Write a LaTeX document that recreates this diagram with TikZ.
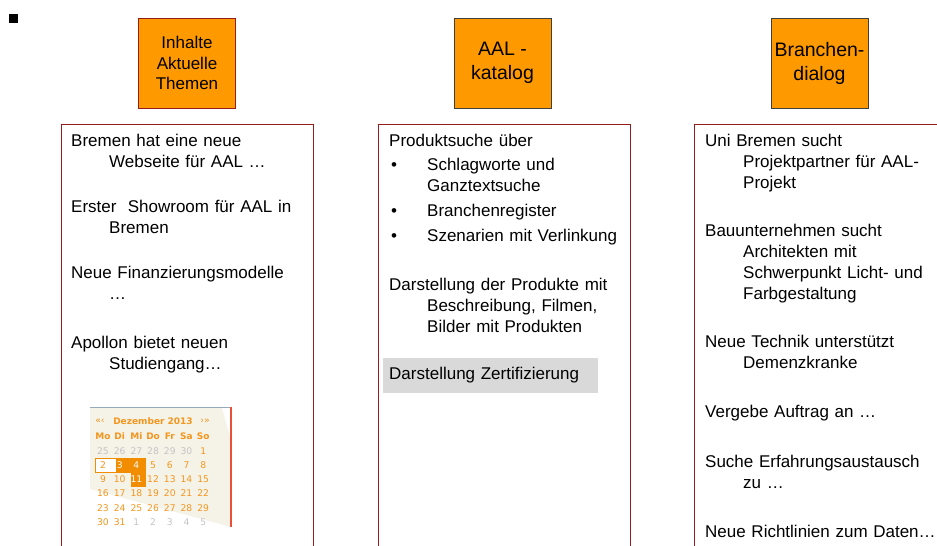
\documentclass[tikz,border=0pt]{standalone}
\usepackage{fontspec}
\setmainfont{Liberation Sans}
\newfontfamily\calfont{DejaVu Sans}
\usetikzlibrary{shapes}

\definecolor{boxorange}{RGB}{255,153,0}
\definecolor{boxred}{RGB}{150,28,28}
\definecolor{boxgrey}{RGB}{64,64,64}
\definecolor{calorange}{RGB}{243,150,30}
\definecolor{calfill}{RGB}{242,140,0}
\definecolor{calgrey}{RGB}{195,195,195}
\definecolor{calbeige}{RGB}{245,243,232}
\definecolor{calline}{RGB}{150,170,185}
\definecolor{calred}{RGB}{235,80,55}
\definecolor{zertgrey}{RGB}{217,217,217}

\tikzstyle{topic} = [rectangle, minimum width=97pt, minimum height=90pt, align=center, draw=boxred, line width=1pt, fill=boxorange, font=\fontsize{17}{20.5}\selectfont]
\tikzstyle{bigtopic} = [topic, draw=boxgrey, font=\fontsize{19.5}{24}\selectfont]
\tikzstyle{panel} = [rectangle, minimum height=436pt, draw=boxred, line width=1pt]
\tikzstyle{entry} = [anchor=base west, inner sep=0pt, text width=240pt, align=left, font=\fontsize{17}{21}\selectfont]
\tikzstyle{day} = [inner sep=0pt, text=calorange, font=\calfont\fontsize{9.2}{10}\selectfont]
\tikzstyle{dayname} = [day, font=\calfont\bfseries\fontsize{9}{10}\selectfont]

\newcommand{\ind}{\hspace*{38pt}}
\newcommand{\bul}{\makebox[38pt][l]{\hspace*{2pt}•}}

\begin{document}
\begin{tikzpicture}[x=1pt, y=-1pt]
\useasboundingbox (0,0) rectangle (937,546);
\clip (0,0) rectangle (937,546);

\fill (9,14) rectangle (18,23);

% headers
\node (inhalte) [topic] at (187,63) {Inhalte\\Aktuelle\\Themen};
\node (katalog) [bigtopic] at (502.5,63) {AAL -\\katalog};
\node (dialog) [bigtopic] at (819.5,63) {Branchen-\\dialog};

% panels
\node (news) [panel, minimum width=252pt] at (187,342) {};
\node (products) [panel, minimum width=252pt] at (504,342) {};
\node (market) [panel, minimum width=256pt] at (822,342) {};

% panel 1
\node (n1) [entry] at (71,146) {Bremen hat eine neue\\\ind Webseite für AAL …};
\node (n2) [entry] at (71,212) {Erster~ Showroom für AAL in\\\ind Bremen};
\node (n3) [entry] at (71,278) {Neue Finanzierungsmodelle\\\ind …};
\node (n4) [entry] at (71,348) {Apollon bietet neuen\\\ind Studiengang…};

% panel 2
\node (p1) [entry] at (389,146) {Produktsuche über};
\node (p2) [entry] at (389,170) {\bul Schlagworte und\\\ind Ganztextsuche};
\node (p3) [entry] at (389,216) {\bul Branchenregister};
\node (p4) [entry] at (389,241) {\bul Szenarien mit Verlinkung};
\node (p5) [entry] at (389,290) {Darstellung der Produkte mit\\\ind Beschreibung, Filmen,\\\ind Bilder mit Produkten};
\node (zert) [rectangle, anchor=west, fill=zertgrey, minimum height=35pt, text width=203pt, inner xsep=6pt, align=left, font=\fontsize{17}{21}\selectfont] at (383,375.5) {Darstellung Zertifizierung};

% panel 3
\node (m1) [entry] at (705,146) {Uni Bremen sucht\\\ind Projektpartner für AAL-\\\ind Projekt};
\node (m2) [entry] at (705,236) {Bauunternehmen sucht\\\ind Architekten mit\\\ind Schwerpunkt Licht- und\\\ind Farbgestaltung};
\node (m3) [entry] at (705,347) {Neue Technik unterstützt\\\ind Demenzkranke};
\node (m4) [entry] at (705,417) {Vergebe Auftrag an …};
\node (m5) [entry] at (705,467) {Suche Erfahrungsaustausch\\\ind zu …};
\node (m6) [entry] at (705,537) {Neue Richtlinien zum Daten…};

% calendar
\fill[calbeige] (90,408) -- (222,408) -- (231,440) -- (231,527) -- (90,489) -- cycle;
\draw[calline, line width=1pt] (90,407.5) -- (231,407.5);
\draw[calred, line width=1.2pt] (231,407) -- (231,527);
\draw[calfill, fill=white, line width=0.8pt] (95.5,458) rectangle (116,472.5);
\fill[calfill] (116,458) rectangle (146,473);
\fill[calfill] (131,473) rectangle (146,487);

\node (calprev) [day] at (100,421) {«‹};
\node (calmonth) [dayname] at (153,421) {Dezember 2013};
\node (calnext) [day] at (205,421) {›»};
\foreach \n [count=\c from 0] in {Mo,Di,Mi,Do,Fr,Sa,So}
  \node (name\c) [dayname] at ({103+16.7*\c},436) {\n};
\foreach \d [count=\c from 0] in {25,...,30}
  \node (prev\d) [day, text=calgrey] at ({103+16.7*\c},450.75) {\d};
\node (day1) [day] at ({103+16.7*6},450.75) {1};
\foreach \r in {0,...,3}
  \foreach \c in {0,...,6} {
    \pgfmathtruncatemacro{\d}{2+7*\r+\c}
    \def\dcol{calorange}
    \ifnum\d=3 \def\dcol{white}\fi
    \ifnum\d=4 \def\dcol{white}\fi
    \ifnum\d=11 \def\dcol{white}\fi
    \node (day\d) [day, text=\dcol] at ({103+16.7*\c},{465+14.25*\r}) {\d};
  }
\node (day30) [day] at (103,522) {30};
\node (day31) [day] at (119.7,522) {31};
\foreach \d in {1,...,5}
  \node (next\d) [day, text=calgrey] at ({103+16.7*(\d+1)},522) {\d};

\end{tikzpicture}
\end{document}
